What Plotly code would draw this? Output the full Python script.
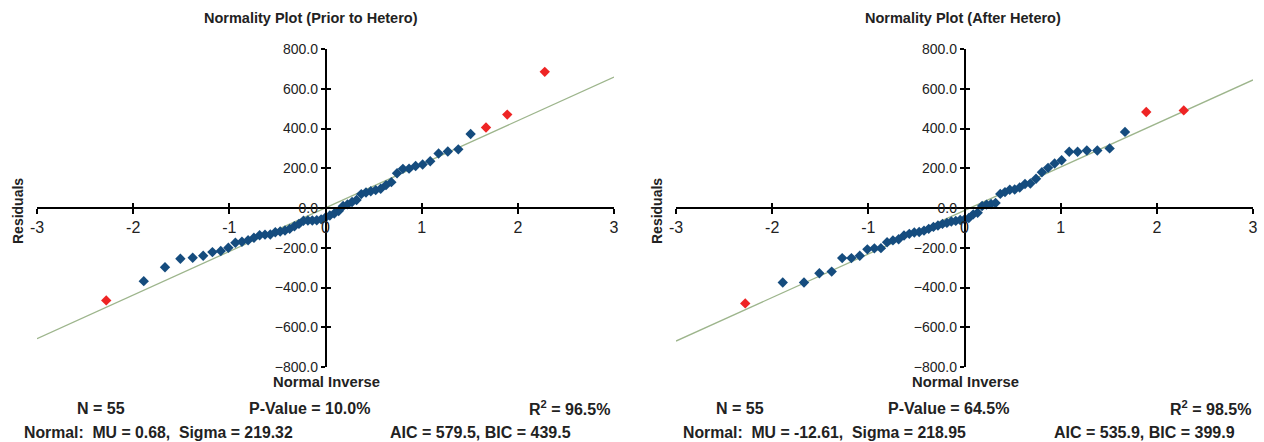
import plotly.graph_objects as go

W, H = 1264, 442

# Normal inverse (x) positions
x_quant = [-2.280, -1.890, -1.669, -1.509, -1.381, -1.272, -1.176, -1.089, -1.010, -0.937,
           -0.869, -0.805, -0.744, -0.685, -0.629, -0.574, -0.522, -0.471, -0.421, -0.372,
           -0.323, -0.276, -0.229, -0.183, -0.137, -0.091, -0.045, 0.000, 0.045, 0.091,
           0.137, 0.183, 0.229, 0.276, 0.323, 0.372, 0.421, 0.471, 0.522, 0.574,
           0.629, 0.685, 0.744, 0.805, 0.869, 0.937, 1.010, 1.089, 1.176, 1.272,
           1.381, 1.509, 1.669, 1.890, 2.280]

resid_prior = [-465, -368, -298, -255, -250, -240, -222, -216, -200, -175,
               -170, -162, -150, -137, -134, -133, -122, -118, -113, -105,
               -92, -80, -64, -63, -63, -62, -57, -48, -38, -28,
               -15, 10, 18, 30, 40, 70, 78, 84, 90, 97,
               115, 130, 175, 197, 198, 211, 219, 235, 274, 284,
               295, 372, 405, 470, 685]

resid_after = [-480, -375, -375, -328, -320, -252, -252, -240, -208, -203,
               -202, -172, -163, -157, -138, -130, -123, -121, -114, -105,
               -95, -88, -80, -75, -68, -65, -60, -57, -50, -32,
               -24, 10, 17, 20, 25, 71, 80, 92, 93, 103,
               121, 123, 147, 180, 202, 224, 240, 283, 283, 289,
               289, 300, 383, 483, 491]

outliers_prior = [0, 52, 53, 54]
outliers_after = [0, 53, 54]

titles = ["Normality Plot (Prior to Hetero)", "Normality Plot (After Hetero)"]
mu = [0.68, -12.61]
sigma = [219.32, 218.95]
n_obs = [55, 55]
p_values = ["10.0%", "64.5%"]
r2 = ["96.5%", "98.5%"]
aic = ["579.5", "535.9"]
bic = ["439.5", "399.9"]
line_x = [-3, 3]

BLUE = "#154C7E"
RED = "#EE2424"
LINE = "#9DB58C"
FONT = "Liberation Sans, Arial, sans-serif"
TXT = "#222222"

def px(x):
    return x / W

def py(y):
    return 1 - y / H

xdomains = [[px(37), px(614)], [px(676), px(1253)]]
ydomain = [py(367), py(49)]
ymid = (ydomain[0] + ydomain[1]) / 2

fig = go.Figure()

datasets = [(resid_prior, outliers_prior), (resid_after, outliers_after)]
for k, (res, outl) in enumerate(datasets):
    xa = "x" if k == 0 else "x2"
    ya = "y" if k == 0 else "y2"
    bx = [x_quant[i] for i in range(len(res)) if i not in outl]
    by = [res[i] for i in range(len(res)) if i not in outl]
    rx = [x_quant[i] for i in outl]
    ry = [res[i] for i in outl]
    ly = [mu[k] + sigma[k] * v for v in line_x]
    fig.add_trace(go.Scatter(x=line_x, y=ly, mode="lines", line=dict(color=LINE, width=1.3),
                             xaxis=xa, yaxis=ya, showlegend=False, hoverinfo="skip"))
    fig.add_trace(go.Scatter(x=bx, y=by, mode="markers",
                             marker=dict(symbol="diamond", size=8, color=BLUE),
                             xaxis=xa, yaxis=ya, showlegend=False))
    fig.add_trace(go.Scatter(x=rx, y=ry, mode="markers",
                             marker=dict(symbol="diamond", size=8, color=RED),
                             xaxis=xa, yaxis=ya, showlegend=False))

# dummy traces for the overlay (inner-tick) axes
fig.add_trace(go.Scatter(x=[None], y=[None], xaxis="x3", yaxis="y", showlegend=False))
fig.add_trace(go.Scatter(x=[None], y=[None], xaxis="x", yaxis="y3", showlegend=False))
fig.add_trace(go.Scatter(x=[None], y=[None], xaxis="x4", yaxis="y2", showlegend=False))
fig.add_trace(go.Scatter(x=[None], y=[None], xaxis="x2", yaxis="y4", showlegend=False))

xtick = dict(range=[-3, 3], tickmode="array", tickvals=[-3, -2, -1, 0, 1, 2, 3],
             ticktext=["-3", "-2", "-1", "0", "1", "2", "3"],
             showgrid=False, zeroline=False, anchor="free", position=ymid,
             fixedrange=True, automargin=False)
ytick = dict(range=[-800, 800], tickmode="array",
             tickvals=[-800, -600, -400, -200, 0, 200, 400, 600, 800],
             showgrid=False, zeroline=False, anchor="free", fixedrange=True,
             automargin=False)

layout_axes = {}
for k in range(2):
    xd = xdomains[k]
    xmid = (xd[0] + xd[1]) / 2
    xname = "xaxis" if k == 0 else "xaxis2"
    yname = "yaxis" if k == 0 else "yaxis2"
    xo = "xaxis3" if k == 0 else "xaxis4"
    yo = "yaxis3" if k == 0 else "yaxis4"
    layout_axes[xname] = dict(xtick, domain=xd, showline=True, linecolor="black", linewidth=1.5,
                              ticks="outside", ticklen=5, tickwidth=1.5, tickcolor="black",
                              tickfont=dict(family=FONT, size=16, color=TXT))
    layout_axes[yname] = dict(ytick, domain=ydomain, position=xmid, showline=True,
                              linecolor="black", linewidth=1.5,
                              ticks="outside", ticklen=4, tickwidth=1.5, tickcolor="black",
                              tickformat=".1f",
                              tickfont=dict(family=FONT, size=14, color=TXT))
    layout_axes[xo] = dict(xtick, overlaying="x" if k == 0 else "x2", domain=xd,
                           showline=False, ticks="inside", ticklen=5, tickwidth=1.5,
                           tickcolor="black", showticklabels=False)
    layout_axes[yo] = dict(ytick, overlaying="y" if k == 0 else "y2", domain=ydomain,
                           position=xmid, showline=False, ticks="inside", ticklen=4,
                           tickwidth=1.5, tickcolor="black", showticklabels=False)

annotations = []
def ann(text, x, y, size, xanchor="center", bold=True, angle=0):
    annotations.append(dict(text=("<b>%s</b>" % text) if bold else text,
                            x=px(x), y=py(y), xref="paper", yref="paper",
                            xanchor=xanchor, yanchor="middle", showarrow=False,
                            textangle=angle,
                            font=dict(family=FONT, size=size, color=TXT)))

NB = "\u00a0"
offsets = [0, 639]
for k in range(2):
    o = offsets[k]
    ann(titles[k], (311 if k == 0 else 963), 18, 14.5)
    ann("Residuals", 18 + o, 211, 14, angle=-90)
    ann("Normal Inverse", 326 + o, 382, 14.8)
    ann("N = %d" % n_obs[k], 101 + o, 408, 16)
    ann("P-Value = %s" % p_values[k], (309 if k == 0 else 948), 408, 16)
    ann("R<sup>2</sup> = %s" % r2[k], (612 if k == 0 else 1253), 408, 16, xanchor="right")
    ann("Normal:%sMU = %s,%sSigma = %.2f" % (NB * 2, ("%.2f" % mu[k]), NB * 2, sigma[k]),
        (22 if k == 0 else 681), 432, 15.8, xanchor="left")
    ann("AIC = %s, BIC = %s" % (aic[k], bic[k]), (480 if k == 0 else 1144), 432, 16)

fig.update_layout(width=W, height=H, margin=dict(l=0, r=0, t=0, b=0),
                  paper_bgcolor="white", plot_bgcolor="rgba(0,0,0,0)",
                  annotations=annotations, showlegend=False, **layout_axes)

fig.write_html("out.html")
